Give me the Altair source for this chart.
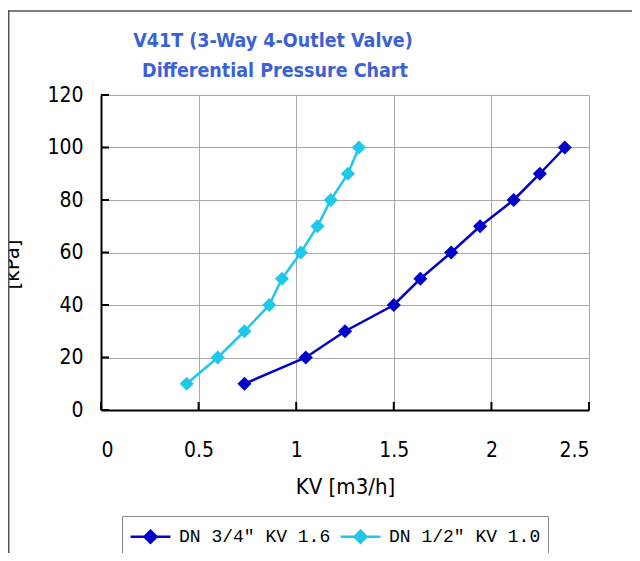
import altair as alt
import pandas as pd

title_lines = ["V41T (3-Way 4-Outlet Valve)", "Differential Pressure Chart"]
dp = [10, 20, 30, 40, 50, 60, 70, 80, 90, 100]
kv_34 = [0.735, 1.049, 1.25, 1.5, 1.636, 1.794, 1.942, 2.114, 2.248, 2.376]
kv_12 = [0.439, 0.598, 0.735, 0.862, 0.927, 1.024, 1.109, 1.177, 1.265, 1.321]
series = ["DN 3/4\u2033 KV 1.6", "DN 1/2\u2033 KV 1.0"]
colors = ["#0000CC", "#1EC8E8"]
x_ticks = [0, 0.5, 1, 1.5, 2, 2.5]
y_ticks = [0, 20, 40, 60, 80, 100, 120]

rows = []
for s, kvs in zip(series, [kv_34, kv_12]):
    for k, p in zip(kvs, dp):
        rows.append({"series": s, "kv": k, "dp": p})
df = pd.DataFrame(rows)

W, H = 488, 315
SANS = "DejaVu Sans Condensed, sans-serif"

xs = alt.Scale(domain=[0, 2.5], nice=False, zero=False)
ys = alt.Scale(domain=[0, 120], nice=False, zero=False)

sym_path = "M-1.667,0L1.667,0M0,-0.5L0.5,0L0,0.5L-0.5,0Z"
legend = alt.Legend(
    title=None, orient="none", legendX=21, legendY=421, direction="horizontal",
    symbolType=sym_path, symbolSize=576, symbolStrokeWidth=2.5,
    symbolOffset=8,
    labelFont="Liberation Mono", labelFontSize=18, labelColor="#000000",
    strokeColor="#888888", padding=7, columnPadding=4, labelOffset=15,
)

x_enc = alt.X("kv:Q", scale=xs, axis=alt.Axis(
    values=x_ticks, title="KV [m3/h]", ticks=False, labelPadding=29,
    titlePadding=16, format="~g"))
y_enc = alt.Y("dp:Q", scale=ys, axis=alt.Axis(
    values=y_ticks, title="[kPa]", ticks=False, labelPadding=18,
    titleX=-83, titleY=169, titleAngle=270, titleBaseline="alphabetic",
    titleAlign="center"))

lines = alt.Chart(df).mark_line(strokeWidth=2.5).encode(
    x=x_enc, y=y_enc,
    stroke=alt.Stroke("series:N", scale=alt.Scale(domain=series, range=colors), legend=legend),
)
points = alt.Chart(df).mark_point(shape="diamond", size=200, filled=True, opacity=1).encode(
    x=alt.X("kv:Q", scale=xs), y=alt.Y("dp:Q", scale=ys),
    fill=alt.Fill("series:N", scale=alt.Scale(domain=series, range=colors), legend=legend),
)

ytick_df = pd.DataFrame({"dp": y_ticks})
xtick_df = pd.DataFrame({"kv": x_ticks})
yt = alt.Chart(ytick_df).mark_rule(color="black", strokeWidth=2).encode(
    y=alt.Y("dp:Q", scale=ys), x=alt.value(0), x2=alt.value(8))
xt = alt.Chart(xtick_df).mark_rule(color="black", strokeWidth=2).encode(
    x=alt.X("kv:Q", scale=xs), y=alt.value(H), y2=alt.value(H - 8))

one = pd.DataFrame({"t": [0]})
frame_l = alt.Chart(one).mark_rule(color="#555555", strokeWidth=1.5).encode(
    x=alt.value(-92.25), y=alt.value(-85), y2=alt.value(H + 170))
frame_t = alt.Chart(one).mark_rule(color="#555555", strokeWidth=1.5).encode(
    y=alt.value(-84), x=alt.value(-93), x2=alt.value(W + 60))

t1 = alt.Chart(pd.DataFrame({"t": [title_lines[0]]})).mark_text(
    font=SANS, fontSize=19.5, fontWeight="bold", color="#3A62D6", align="center",
    baseline="alphabetic").encode(text="t:N", x=alt.value(172), y=alt.value(-48))
t2 = alt.Chart(pd.DataFrame({"t": [title_lines[1]]})).mark_text(
    font=SANS, fontSize=19.5, fontWeight="bold", color="#3A62D6", align="center",
    baseline="alphabetic").encode(text="t:N", x=alt.value(174), y=alt.value(-18))

chart = alt.layer(frame_l, frame_t, t1, t2, lines, points, yt, xt).properties(
    width=W, height=H,
    autosize=alt.AutoSizeParams(type="none"),
    padding={"left": 93, "top": 87, "right": 43, "bottom": 143},
    background="white",
).configure_view(stroke=None).configure_axis(
    labelFont=SANS, labelFontSize=21, labelColor="#000000",
    titleFont=SANS, titleFontSize=22, titleFontWeight="normal", titleColor="#000000",
    domainColor="#000000", domainWidth=2,
    gridColor="#A8A8A8", gridWidth=1, gridOpacity=1,
)

chart.save("out.html", embed_options={"renderer": "svg", "actions": False})
